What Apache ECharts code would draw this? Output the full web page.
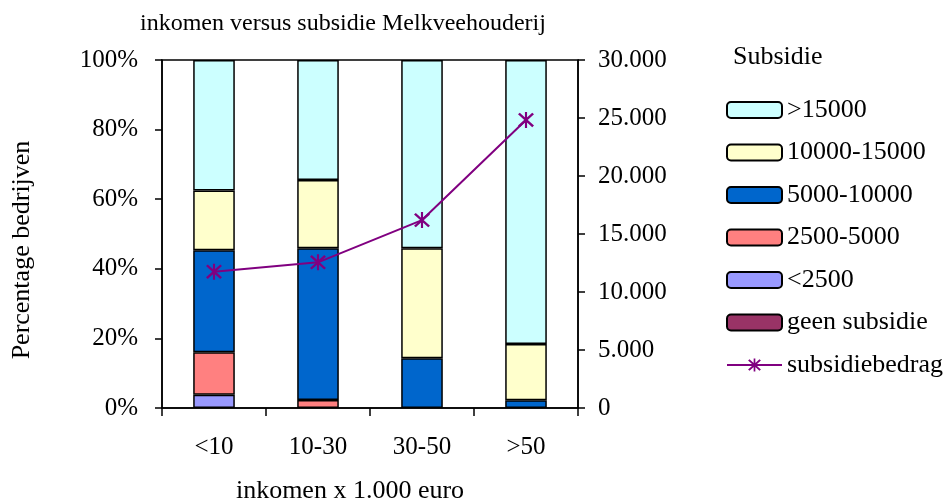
<!DOCTYPE html>
<html>
<head>
<meta charset="utf-8">
<script src="https://cdn.jsdelivr.net/npm/echarts@6/dist/echarts.min.js"></script>
<style>html,body{margin:0;padding:0;background:#fff}#c{width:948px;height:501px}</style>
</head>
<body>
<div id="c"></div>
<script>
const categories = ['<10', '10-30', '30-50', '>50'];
const geenSubsidie = [0, 0, 0, 0];
const lt2500 = [3.8, 0, 0, 0];
const s2500_5000 = [12.2, 2.3, 0, 0];
const s5000_10000 = [29.3, 43.6, 14.3, 2.2];
const s10000_15000 = [17.2, 19.6, 31.6, 16.2];
const gt15000 = [37.5, 34.5, 54.1, 81.6];
const subsidiebedrag = [11750, 12560, 16200, 24830];
const leftTicks = [0, 20, 40, 60, 80, 100];
const rightTicks = [0, 5000, 10000, 15000, 20000, 25000, 30000];

const FONT = '"Liberation Serif", "Times New Roman", serif';
const star = 'path://M4.4,0 L5.6,0 L5.6,10 L4.4,10 Z M0.5,1.5 L1.5,0.5 L9.5,8.5 L8.5,9.5 Z M8.5,0.5 L9.5,1.5 L1.5,9.5 L0.5,8.5 Z';

const barDefs = [
  ['geen subsidie', geenSubsidie, '#993366'],
  ['<2500', lt2500, '#9999FF'],
  ['2500-5000', s2500_5000, '#FF8080'],
  ['5000-10000', s5000_10000, '#0066CC'],
  ['10000-15000', s10000_15000, '#FFFFCC'],
  ['>15000', gt15000, '#CCFFFF']
];

function fmtThousands(v) {
  return String(v).replace(/\B(?=(\d{3})+(?!\d))/g, '.');
}

const series = barDefs.map(([name, arr, color]) => ({
  name: name,
  type: 'bar',
  stack: 'pct',
  barWidth: '40%',
  data: arr.map(v => v === 0 ? null : v),
  itemStyle: { color: color, borderColor: '#000', borderWidth: 1.5 },
  emphasis: { disabled: true }
}));
series.push({
  name: 'subsidiebedrag',
  type: 'line',
  yAxisIndex: 1,
  data: subsidiebedrag,
  symbol: star,
  symbolSize: 16,
  lineStyle: { color: '#800080', width: 2 },
  itemStyle: { color: '#800080' },
  z: 10
});

const chart = echarts.init(document.getElementById('c'), null, { renderer: 'canvas' });
chart.setOption({
  animation: false,
  backgroundColor: '#fff',
  textStyle: { fontFamily: FONT, color: '#000' },
  title: [
    { text: 'inkomen versus subsidie Melkveehouderij', left: 135, top: 7,
      textStyle: { fontFamily: FONT, fontSize: 24, fontWeight: 'normal', color: '#000' } },
    { text: 'Subsidie', left: 728, top: 39,
      textStyle: { fontFamily: FONT, fontSize: 26, fontWeight: 'normal', color: '#000' } }
  ],
  graphic: [
    { type: 'text', x: 22, y: 250, rotation: Math.PI / 2,
      style: { text: 'Percentage bedrijven', font: '26px ' + FONT, fill: '#000', textAlign: 'center', textVerticalAlign: 'middle' } },
    { type: 'text', x: 350, y: 491,
      style: { text: 'inkomen x 1.000 euro', font: '26px ' + FONT, fill: '#000', textAlign: 'center', textVerticalAlign: 'middle' } }
  ],
  legend: {
    orient: 'vertical',
    left: 726,
    top: 97,
    padding: 0,
    itemWidth: 55,
    itemHeight: 16,
    itemGap: 16.5,
    data: ['>15000', '10000-15000', '5000-10000', '2500-5000', '<2500', 'geen subsidie', 'subsidiebedrag'],
    textStyle: { fontFamily: FONT, fontSize: 26, color: '#000' },
    selectedMode: false
  },
  grid: { left: 162, right: 370, top: 60, bottom: 93, show: true, borderColor: '#000', borderWidth: 1.5, backgroundColor: 'transparent', outerBoundsMode: 'none', containLabel: false },
  xAxis: {
    type: 'category',
    data: categories,
    axisLine: { lineStyle: { color: '#000', width: 1.5 } },
    axisTick: { show: true, length: 8, lineStyle: { color: '#000', width: 1.5 } },
    axisLabel: { margin: 27, fontFamily: FONT, fontSize: 25, color: '#000' }
  },
  yAxis: [
    {
      type: 'value', min: 0, max: 100, interval: 20,
      axisLine: { show: true, lineStyle: { color: '#000', width: 1.5 } },
      axisTick: { show: true, length: 7, lineStyle: { color: '#000', width: 1.5 } },
      splitLine: { show: false },
      axisLabel: { margin: 24, fontFamily: FONT, fontSize: 25, color: '#000',
        formatter: v => leftTicks.includes(v) ? v + '%' : '' }
    },
    {
      type: 'value', min: 0, max: 30000, interval: 5000, position: 'right',
      axisLine: { show: true, lineStyle: { color: '#000', width: 1.5 } },
      axisTick: { show: true, length: 7, lineStyle: { color: '#000', width: 1.5 } },
      splitLine: { show: false },
      axisLabel: { margin: 20, fontFamily: FONT, fontSize: 25, color: '#000',
        formatter: v => rightTicks.includes(v) ? fmtThousands(v) : '' }
    }
  ],
  series: series
});
</script>
</body>
</html>
